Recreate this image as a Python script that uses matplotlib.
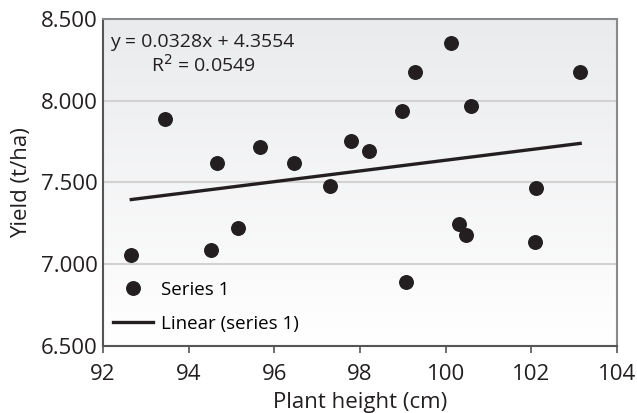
import numpy as np
import matplotlib
matplotlib.use("Agg")
import matplotlib.pyplot as plt
from matplotlib.lines import Line2D
from matplotlib.colors import LinearSegmentedColormap

plt.rcParams['font.family'] = ['Open Sans', 'DejaVu Sans']

height_cm = [92.66, 93.45, 94.53, 94.65, 95.15, 95.67, 96.47, 97.30, 97.79, 98.20,
             98.98, 99.07, 99.29, 100.13, 100.30, 100.48, 100.60, 102.09, 102.12, 103.14]
yield_tha = [7.055, 7.887, 7.086, 7.620, 7.218, 7.714, 7.620, 7.477, 7.755, 7.693,
             7.938, 6.892, 8.175, 8.354, 7.243, 7.177, 7.969, 7.136, 7.463, 8.175]
slope = 0.0328
intercept = 4.3554
r2 = 0.0549
x_ticks = [92, 94, 96, 98, 100, 102, 104]
y_ticks = [6.5, 7.0, 7.5, 8.0, 8.5]
y_ticklabels = ['6.500', '7.000', '7.500', '8.000', '8.500']

ink = '#231f20'
fig = plt.figure(figsize=(6.37, 4.13), dpi=100)
ax = fig.add_axes([0.1617, 0.163, 0.8069, 0.791])
ax.set_xlim(92, 104)
ax.set_ylim(6.5, 8.5)

# gradient background
grad = np.linspace(0, 1, 256).reshape(-1, 1)
cmap = LinearSegmentedColormap.from_list('bg', ['#ffffff', '#eaebed'])
ax.imshow(grad, extent=[92, 104, 6.5, 8.5], origin='lower', aspect='auto', cmap=cmap, zorder=0)

for yv in y_ticks[1:-1]:
    ax.axhline(yv, color='#d2d2d2', lw=1.5, zorder=1)

ax.scatter(height_cm, yield_tha, s=95, color=ink, zorder=3)
xl = np.array([min(height_cm), max(height_cm)])
ax.plot(xl, slope * xl + intercept, color=ink, lw=2.4, zorder=2)

ax.set_xticks(x_ticks)
ax.set_yticks(y_ticks)
ax.set_yticklabels(y_ticklabels)
ax.tick_params(axis='x', direction='out', length=5, width=1.2, color='#555555',
               labelsize=16, pad=8, labelcolor=ink)
ax.tick_params(axis='y', length=0, labelsize=16, pad=4, labelcolor=ink)
for sp in ax.spines.values():
    sp.set_color('#8a8a8a')
    sp.set_linewidth(1.5)
ax.spines['bottom'].set_color('#555555')
ax.spines['left'].set_color('#555555')

ax.set_xlabel('Plant height (cm)', fontsize=16, labelpad=5, color=ink)
ax.set_ylabel('Yield (t/ha)', fontsize=16, labelpad=6, color=ink)

ax.text(0.014, 0.93, f'y = {slope}x + {intercept}', transform=ax.transAxes, fontsize=14,
        ha='left', va='center', color=ink)
ax.text(0.196, 0.86, f'R$^2$ = {r2}', transform=ax.transAxes, fontsize=14,
        ha='center', va='center', color=ink)

handles = [Line2D([], [], marker='o', ls='none', color=ink, markersize=9.7),
           Line2D([], [], color=ink, lw=2.4)]
ax.legend(handles, ['Series 1', 'Linear (series 1)'], loc='lower left', frameon=False,
          fontsize=13.5, bbox_to_anchor=(0.02, 0.04), handlelength=2.1, handletextpad=0.45,
          labelspacing=0.85, borderaxespad=0, borderpad=0)

fig.savefig('out.png', dpi=100)
